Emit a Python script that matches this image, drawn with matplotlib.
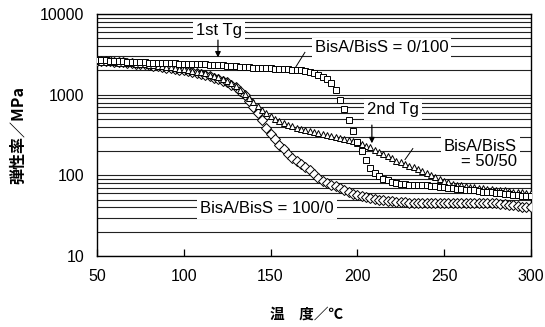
import matplotlib
matplotlib.use('Agg')
import matplotlib.pyplot as plt
from matplotlib.ticker import FixedLocator, FixedFormatter, LogLocator, NullFormatter

plt.rcParams['font.family'] = ['Liberation Sans', 'Noto Sans CJK JP', 'DejaVu Sans']

# ─── データ ──────────────────────────────────────────────────
temp = [50.0, 52.5, 55.0, 57.5, 60.0, 62.5, 65.0, 67.5, 70.0, 72.5,
        75.0, 77.5, 80.0, 82.5, 85.0, 87.5, 90.0, 92.5, 95.0, 97.5,
        100.0, 102.5, 105.0, 107.5, 110.0, 112.5, 115.0, 117.5, 120.0, 122.5,
        125.0, 127.5, 130.0, 132.5, 135.0, 137.5, 140.0, 142.5, 145.0, 147.5,
        150.0, 152.5, 155.0, 157.5, 160.0, 162.5, 165.0, 167.5, 170.0, 172.5,
        175.0, 177.5, 180.0, 182.5, 185.0, 187.5, 190.0, 192.5, 195.0, 197.5,
        200.0, 202.5, 205.0, 207.5, 210.0, 212.5, 215.0, 217.5, 220.0, 222.5,
        225.0, 227.5, 230.0, 232.5, 235.0, 237.5, 240.0, 242.5, 245.0, 247.5,
        250.0, 252.5, 255.0, 257.5, 260.0, 262.5, 265.0, 267.5, 270.0, 272.5,
        275.0, 277.5, 280.0, 282.5, 285.0, 287.5, 290.0, 292.5, 295.0, 297.5,
        300.0]

# BisA/BisS = 0/100（□）
mod_0_100 = [2700, 2680, 2660, 2640, 2620, 2600, 2590, 2580, 2570, 2550,
             2540, 2520, 2500, 2490, 2480, 2470, 2460, 2450, 2440, 2430,
             2420, 2410, 2400, 2390, 2380, 2370, 2360, 2340, 2330, 2310,
             2290, 2270, 2250, 2230, 2210, 2190, 2170, 2150, 2140, 2130,
             2120, 2100, 2090, 2070, 2060, 2040, 2020, 2000, 1970, 1920,
             1860, 1780, 1680, 1560, 1400, 1150, 850, 660, 480, 350,
             260, 200, 155, 125, 108, 98, 91, 87, 83, 80,
             79, 78, 77, 76, 76, 75, 75, 74, 73, 72,
             71, 70, 69, 68, 67, 66, 66, 65, 64, 63,
             63, 62, 61, 60, 59, 58, 57, 57, 56, 55,
             55]

# BisA/BisS = 50/50（△）
mod_50_50 = [2600, 2580, 2560, 2540, 2520, 2500, 2480, 2460, 2440, 2420,
             2400, 2370, 2340, 2310, 2280, 2250, 2220, 2190, 2150, 2110,
             2070, 2030, 1990, 1940, 1890, 1840, 1780, 1720, 1650, 1570,
             1480, 1380, 1270, 1150, 1030, 910, 810, 720, 650, 590,
             545, 505, 475, 450, 425, 405, 390, 378, 366, 355,
             345, 336, 327, 318, 310, 300, 292, 283, 274, 264,
             254, 244, 233, 222, 208, 194, 182, 172, 162, 152,
             145, 138, 132, 126, 119, 112, 106, 100, 95, 90,
             86, 82, 79, 77, 75, 73, 72, 71, 70, 69,
             68, 67, 66, 66, 65, 64, 63, 63, 62, 61,
             61]

# BisA/BisS = 100/0（◇）
mod_100_0 = [2650, 2630, 2610, 2590, 2570, 2550, 2520, 2490, 2460, 2430,
             2400, 2370, 2330, 2290, 2250, 2210, 2170, 2130, 2090, 2050,
             2000, 1960, 1910, 1860, 1810, 1750, 1690, 1630, 1570, 1500,
             1420, 1330, 1230, 1110, 980, 840, 710, 590, 480, 390,
             330, 280, 240, 210, 185, 165, 150, 140, 128, 115,
             103, 93, 86, 81, 77, 73, 69, 65, 62, 59,
             57, 55, 54, 52, 51, 50, 49, 48, 48, 47,
             47, 47, 46, 46, 46, 46, 46, 46, 46, 46,
             46, 46, 46, 46, 46, 46, 45, 45, 45, 45,
             45, 45, 45, 44, 44, 43, 43, 42, 41, 40,
             40]

y_ticks = [10, 100, 1000, 10000]
y_tick_labels = ['10', '100', '1000', '10000']
x_ticks = [50, 100, 150, 200, 250, 300]

# ─── 描画 ────────────────────────────────────────────────────────────
fig = plt.figure(figsize=(5.45, 3.27), dpi=100)
ax = fig.add_axes([0.178, 0.217, 0.796, 0.740])

mk = dict(mfc='white', mec='black', mew=0.7, ls='none', zorder=5)
ax.plot(temp, mod_100_0, marker='D', ms=4.6, **mk)
ax.plot(temp, mod_50_50, marker='^', ms=5.0, **mk)
ax.plot(temp, mod_0_100, marker='s', ms=4.6, **mk)

ax.set_yscale('log')
ax.set_xlim(50, 300)
ax.set_ylim(10, 10000)

ax.yaxis.set_major_locator(FixedLocator(y_ticks))
ax.yaxis.set_major_formatter(FixedFormatter(y_tick_labels))
ax.yaxis.set_minor_locator(LogLocator(base=10, subs=range(2, 10)))
ax.yaxis.set_minor_formatter(NullFormatter())
ax.set_xticks(x_ticks)

ax.set_axisbelow(True)
ax.grid(axis='y', which='both', color='#222222', lw=0.8)
ax.tick_params(axis='y', which='both', length=0, labelsize=11.5, pad=9)
ax.tick_params(axis='x', direction='in', length=5, width=0.9,
               labelsize=11.5, pad=9)
for sp in ax.spines.values():
    sp.set_linewidth(1.0)

lab_font = ['Noto Sans CJK JP', 'DejaVu Sans']
ax.set_ylabel('弾性率／MPa', family=lab_font, fontsize=11.5, fontweight='bold',
              labelpad=10)
fig.text(0.562, 0.042, '温　度／℃', family=lab_font, fontsize=10.5,
         fontweight='bold', ha='center', va='center')

# ─── 注釈 ────────────────────────────────────────────────────────────
box = dict(fc='white', ec='none', pad=2.0)
txt = dict(fontsize=12, ha='center', va='center', zorder=3, bbox=box)
arr = dict(arrowstyle='-|>', color='black', lw=0.9,
           mutation_scale=8, shrinkA=0, shrinkB=0)

ax.text(120.3, 6300, '1st Tg', **txt)
ax.annotate('', xy=(119.7, 2900), xytext=(119.7, 4750), arrowprops=arr,
            zorder=4)

ax.text(214, 3800, 'BisA/BisS = 0/100', **txt)
ax.plot([169.8, 164.5], [3350, 2200], color='black', lw=0.7, zorder=4)

ax.text(220.5, 650, '2nd Tg', **txt)
ax.annotate('', xy=(208.4, 250), xytext=(208.4, 420), arrowprops=arr,
            zorder=4)

ax.text(292, 185, 'BisA/BisS\n= 50/50', fontsize=12, ha='right',
        va='center', linespacing=1.0, zorder=3, bbox=box)
ax.plot([232, 227.5], [215, 157], color='black', lw=0.7, zorder=4)

ax.text(148, 38.7, 'BisA/BisS = 100/0', **txt)

fig.savefig('out.png', dpi=100)
